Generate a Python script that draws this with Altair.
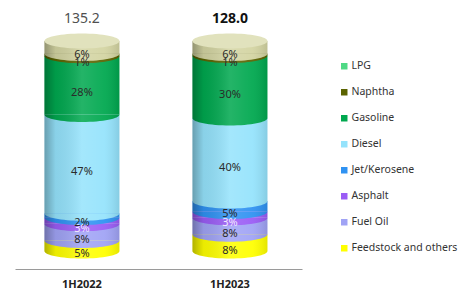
import altair as alt
import pandas as pd

periods = ["1H2022", "1H2023"]
totals = [135.2, 128.0]
products = ["Feedstock and others", "Fuel Oil", "Asphalt", "Jet/Kerosene",
            "Diesel", "Gasoline", "Naphtha", "LPG"]
share_1h2022 = [5, 8, 3, 2, 47, 28, 1, 6]
share_1h2023 = [8, 8, 3, 5, 40, 30, 1, 6]
legend_order = ["LPG", "Naphtha", "Gasoline", "Diesel", "Jet/Kerosene",
                "Asphalt", "Fuel Oil", "Feedstock and others"]
legend_colors = ["#4fd985", "#5b6300", "#00a84f", "#95e3fc", "#2f92f2",
                 "#9a5cf5", "#a0a3f5", "#ffff00"]

rows = []
for p, shares in zip(periods, [share_1h2022, share_1h2023]):
    tot = sum(shares)
    cum = 0
    for i, (prod, v) in enumerate(zip(products, shares)):
        start = cum / tot * 100
        cum += v
        end = cum / tot * 100
        rows.append(dict(period=p, product=prod, value=v, start=start, end=end,
                         mid=(start + end) / 2, label=f"{v}%", idx=i))
df = pd.DataFrame(rows)
df_tot = pd.DataFrame({"period": periods, "total": totals,
                       "label": [f"{t:.1f}" for t in totals]})
df_shade = pd.DataFrame({"period": periods, "lo": [0, 0], "hi": [100, 100]})

HALF = "M -1 0 A 1 0.2 0 0 0 1 0 Z"
FULL = "M -1 0 A 1 0.2 0 1 0 1 0 A 1 0.2 0 1 0 -1 0 Z"
W = 75

xenc = alt.X("period:N",
             scale=alt.Scale(domain=periods, range=[7, 294], paddingInner=0.493,
                             paddingOuter=0.216, align=0.46),
             axis=alt.Axis(title=None, ticks=False, domainColor="#9a9a9a", domainWidth=1,
                           labelFont="Noto Sans", labelFontSize=11, labelFontWeight="bold",
                           labelColor="#222", labelPadding=9, labelAngle=0))
yscale = alt.Scale(domain=[-8.57, 115.72], nice=False, zero=False)

color_enc = alt.condition(
    "datum.product == 'LPG'", alt.value("#d3d4a2"),
    alt.Color("product:N", scale=alt.Scale(domain=legend_order, range=legend_colors),
              legend=alt.Legend(title=None, orient="none", legendX=331, legendY=53,
                                symbolType="square", symbolSize=42, symbolStrokeWidth=0,
                                symbolOpacity=1, labelFont="Noto Sans", labelFontSize=10.5,
                                labelColor="#333", rowPadding=15, labelOffset=2)))

shade = alt.Gradient(gradient="linear", x1=0, x2=1, y1=0, y2=0, stops=[
    alt.GradientStop(color="rgba(0,0,0,0.30)", offset=0),
    alt.GradientStop(color="rgba(0,0,0,0.08)", offset=0.15),
    alt.GradientStop(color="rgba(255,255,255,0.14)", offset=0.5),
    alt.GradientStop(color="rgba(255,255,255,0.06)", offset=0.8),
    alt.GradientStop(color="rgba(0,0,0,0.10)", offset=1),
])

base = alt.Chart(df)
bars = base.mark_bar(size=W).encode(
    x=xenc, y=alt.Y("start:Q", scale=yscale, axis=None), y2="end:Q", color=color_enc)
arcs = base.mark_point(shape=HALF, size=W * W, filled=True, opacity=1, strokeWidth=0).encode(
    x=xenc, y=alt.Y("start:Q", scale=yscale, axis=None), color=color_enc,
    order=alt.Order("idx:Q"))
sh = alt.Chart(df_shade)
shade_bar = sh.mark_bar(size=W, fill=shade).encode(
    x=xenc, y=alt.Y("lo:Q", scale=yscale, axis=None), y2="hi:Q")
shade_arc = sh.mark_point(shape=HALF, size=W * W, fill=shade, strokeWidth=0, opacity=1).encode(
    x=xenc, y=alt.Y("lo:Q", scale=yscale, axis=None))
cap = base.transform_filter("datum.product == 'LPG'").mark_point(
    shape=FULL, size=W * W, filled=True, opacity=1, strokeWidth=0, color="#e1e2bd").encode(
    x=xenc, y=alt.Y("end:Q", scale=yscale, axis=None))
labels = base.mark_text(font="Noto Sans", fontSize=11, dy=8).encode(
    x=xenc, y=alt.Y("mid:Q", scale=yscale, axis=None), text="label:N",
    color=alt.condition("datum.product == 'Asphalt'", alt.value("#f1eaff"), alt.value("#2a2a2a")))
tot = alt.Chart(df_tot)
tot1 = tot.transform_filter("datum.period == '1H2022'").mark_text(
    font="Noto Sans", fontSize=14, dy=-22, color="#505050").encode(
    x=xenc, y=alt.datum(100), text="label:N")
tot2 = tot.transform_filter("datum.period == '1H2023'").mark_text(
    font="Noto Sans", fontSize=14, fontWeight="bold", dy=-22, color="#111").encode(
    x=xenc, y=alt.datum(100), text="label:N")

chart = alt.layer(bars, arcs, shade_bar, shade_arc, cap, labels, tot1, tot2).properties(
    width=460, height=261, autosize="pad", padding=0, background="white"
).configure_view(stroke=None)

chart.save("out.html", embed_options={"renderer": "svg", "actions": False})
